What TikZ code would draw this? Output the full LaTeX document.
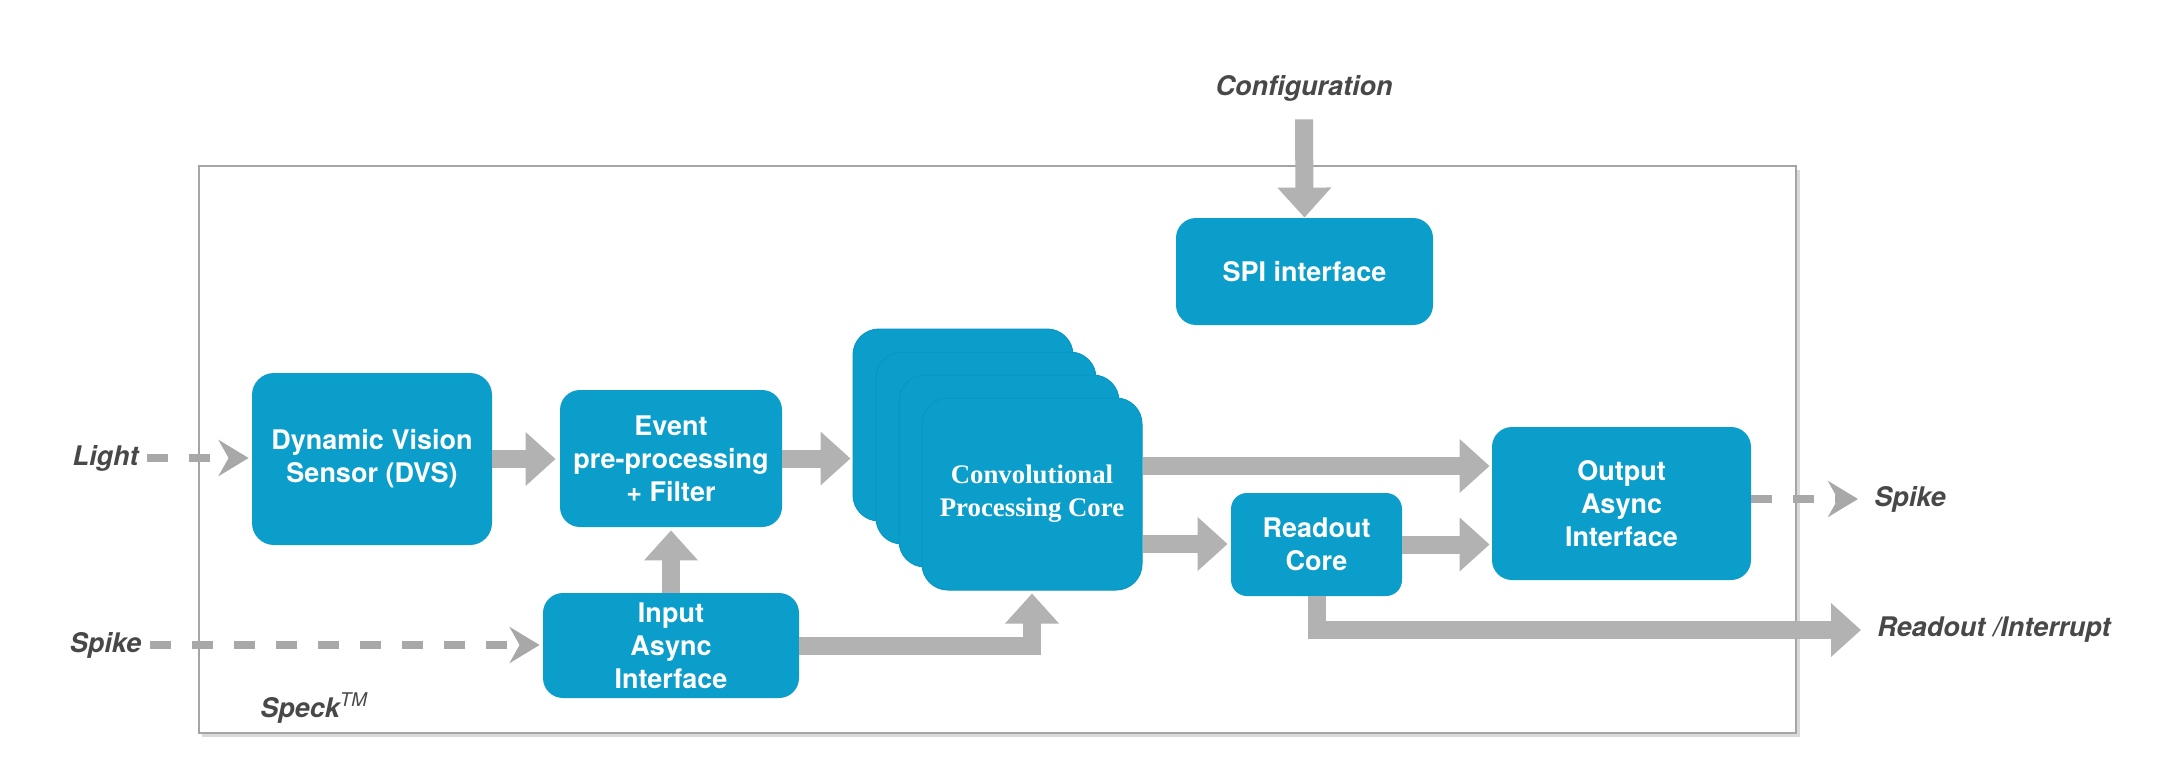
\documentclass[tikz,border=0pt]{standalone}
\usepackage{fontspec}
\setmainfont{TeX Gyre Heros}
\newfontfamily\timesf{Liberation Serif}
\usetikzlibrary{arrows.meta}
\definecolor{boxblue}{RGB}{11,158,203}
\definecolor{cardedge}{RGB}{9,150,194}
\definecolor{arrgray}{RGB}{178,178,178}
\definecolor{dashgray}{RGB}{168,168,168}
\definecolor{labgray}{RGB}{72,72,72}
\definecolor{framegray}{RGB}{165,165,165}
\definecolor{shadowgray}{RGB}{218,218,218}
\begin{document}
\begin{tikzpicture}[x=0.5pt,y=-0.5pt,
  blk/.style={fill=boxblue, rounded corners=10pt, text=white, align=center, inner sep=0pt,
    font=\fontsize{13.5}{16.5}\selectfont\bfseries},
  card/.style={blk, draw=cardedge, line width=0.5pt, rounded corners=13pt,
    minimum width=110pt, minimum height=96pt},
  lbl/.style={text=labgray, inner sep=4pt, font=\fontsize{13.5}{16.5}\selectfont\bfseries\itshape},
  fatarrow/.style={draw=arrgray, line width=9pt, -{Triangle[width=26pt,length=15pt]}},
  dasharrow/.style={draw=dashgray, line width=4pt, dash pattern=on 10.5pt off 10.5pt,
    -{Stealth[length=15pt,width=18pt,inset=5pt]}}
]
\useasboundingbox (0,0) rectangle (2180,781);
\fill[white] (0,0) rectangle (2180,781);

% frame
\fill[shadowgray] (202,170) rectangle (1800,737);
\filldraw[fill=white, draw=framegray, line width=1pt] (199,166) rectangle (1796,733);

% blocks
\node[blk, minimum width=120pt, minimum height=86pt, rounded corners=11pt] (dvs) at (372,459) {Dynamic Vision\\Sensor (DVS)};
\node[blk, minimum width=111pt, minimum height=68.5pt] (event) at (671,458.5) {Event\\pre-processing\\+ Filter};
\node[blk, minimum width=128pt, minimum height=52.5pt] (input) at (671,645.5) {Input\\Async\\Interface};
\node[card] (c4) at (963,425) {};
\node[card] (c3) at (986,448) {};
\node[card] (c2) at (1009,471) {};
\node[card, font=\fontsize{13.4}{16.5}\selectfont\timesf\bfseries] (c1) at (1032,494) {Convolutional\\Processing Core};
\node[blk, minimum width=128.5pt, minimum height=53.5pt] (spi) at (1304.5,271.5) {SPI interface};
\node[blk, minimum width=85.5pt, minimum height=51.5pt, rounded corners=8pt] (readout) at (1316.5,544.5) {Readout\\Core};
\node[blk, minimum width=129.5pt, minimum height=76.5pt] (output) at (1621.5,503.5) {Output\\Async\\Interface};

% labels
\node[lbl] (light) at (105.5,458) {Light};
\node[lbl] (spikein) at (105.5,645) {Spike};
\node[lbl] (config) at (1304,88) {Configuration};
\node[lbl, anchor=west] (spikeout) at (1866,499) {Spike};
\node[lbl, anchor=west] (rint) at (1869,630) {Readout /Interrupt};
\node[lbl, anchor=west] (speck) at (252,708) {Speck\textsuperscript{\mdseries TM}};

% dashed connectors
\draw[dasharrow, shorten >=1.5pt] (light.east) -- (light.east -| dvs.west);
\draw[dasharrow, shorten >=1.5pt] (spikein.east) -- (spikein.east -| input.west);
\draw[dasharrow, shorten >=4pt] (output.east |- spikeout.west) -- (spikeout.west);

% fat connectors
\draw[fatarrow, shorten >=2pt] (dvs.east) -- (dvs.east -| event.west);
\draw[fatarrow, shorten >=1pt] (event.east) -- (event.east -| c4.west);
\draw[fatarrow, shorten >=1.5pt] (input.north) -- (event.south);
\draw[fatarrow, shorten >=1.5pt] (input.east) -| (c1.south);
\draw[fatarrow, shorten >=1pt] ([yshift=14pt]c1.east) -- ([yshift=14pt]c1.east -| output.west);
\draw[fatarrow, shorten >=1.5pt] ([yshift=-25pt]c1.east) -- ([yshift=-25pt]c1.east -| readout.west);
\draw[fatarrow, shorten >=1pt] (readout.east) -- (readout.east -| output.west);
\draw[fatarrow, shorten >=4pt] (readout.south) |- (rint.west);
\draw[fatarrow, shorten <=5pt] (config.south) -- (spi.north);
\end{tikzpicture}
\end{document}
